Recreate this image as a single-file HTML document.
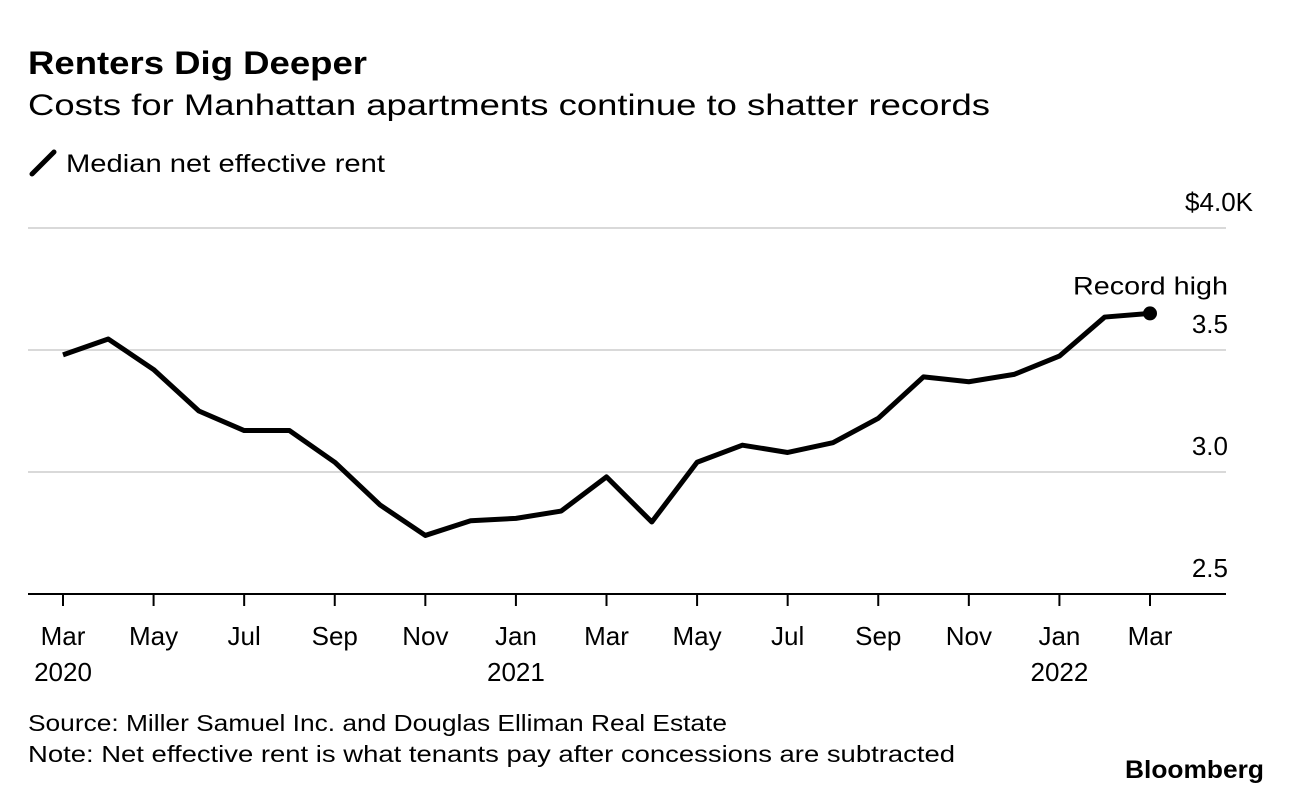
<!DOCTYPE html>
<html><head><meta charset="utf-8"><style>
body{margin:0;background:#fff;font-family:"Liberation Sans",Arial,sans-serif;}
svg text{font-family:"Liberation Sans",Arial,sans-serif;}
</style></head><body>
<svg width="1292" height="794" viewBox="0 0 1292 794">
<text x="28" y="74" font-size="32" font-weight="bold" fill="#000" textLength="339" lengthAdjust="spacingAndGlyphs">Renters Dig Deeper</text>
<text x="28" y="115" font-size="30" fill="#000" textLength="962" lengthAdjust="spacingAndGlyphs">Costs for Manhattan apartments continue to shatter records</text>
<g>
<line x1="32" y1="174" x2="54" y2="152" stroke="#000" stroke-width="5" stroke-linecap="round"/>
<text x="66" y="172" font-size="25" fill="#000" textLength="319" lengthAdjust="spacingAndGlyphs">Median net effective rent</text>
</g>
<g id="grid"></g>
<g id="yl"></g>
<g id="xl"></g>
<path id="line" fill="none" stroke="#000" stroke-width="5" stroke-linejoin="round"/>
<circle id="dot" r="7" fill="#000"/>
<text id="ann" font-size="25" text-anchor="end" fill="#000" textLength="155" lengthAdjust="spacingAndGlyphs">Record high</text>
<text x="28" y="731" font-size="23" fill="#000" textLength="699" lengthAdjust="spacingAndGlyphs">Source: Miller Samuel Inc. and Douglas Elliman Real Estate</text>
<text x="28" y="762" font-size="23" fill="#000" textLength="927" lengthAdjust="spacingAndGlyphs">Note: Net effective rent is what tenants pay after concessions are subtracted</text>
<text x="1125" y="778" font-size="25" font-weight="bold" fill="#000" textLength="139" lengthAdjust="spacingAndGlyphs">Bloomberg</text>
</svg>
<script>
const values=[3.48,3.545,3.42,3.25,3.17,3.17,3.04,2.865,2.74,2.80,2.81,2.84,2.98,2.795,3.04,3.11,3.08,3.12,3.22,3.39,3.37,3.40,3.475,3.635,3.65];
const yTicks=[2.5,3.0,3.5,4.0];
const yTickLabels=["2.5","3.0","3.5","$4.0K"];
const monthLabels=["Mar","May","Jul","Sep","Nov","Jan","Mar","May","Jul","Sep","Nov","Jan","Mar"];
const yearLabels=[[0,"2020"],[10,"2021"],[22,"2022"]];
const NS="http://www.w3.org/2000/svg";
const x=i=>63+i*(1150-63)/24;
const y=v=>594-(v-2.5)*244;
function mk(t,a,p){const e=document.createElementNS(NS,t);for(const k in a)e.setAttribute(k,a[k]);p.appendChild(e);return e;}
const grid=document.getElementById('grid'),yl=document.getElementById('yl'),xl=document.getElementById('xl');
yTicks.forEach((v,i)=>{
 const l=mk('line',{x1:28,x2:1226,y1:y(v),y2:y(v),stroke:i==0?'#000':'#d9d9d9','stroke-width':2},grid);
 
 
 const last=i==yTicks.length-1;
 const t=mk('text',{x:last?1253:1228,y:y(v)-17,'font-size':26,'text-anchor':'end',fill:'#000'},yl);
 t.textContent=yTickLabels[i];
 
 
});
monthLabels.forEach((m,j)=>{
 const i=j*2;
 const tk=mk('line',{x1:x(i),x2:x(i),y1:594,y2:606,stroke:'#000','stroke-width':2},xl);
 
 
 const t=mk('text',{x:x(i),y:645,'font-size':26,'text-anchor':'middle',fill:'#000'},xl);
 t.textContent=m;
 
 
});
yearLabels.forEach(([i,s])=>{
 const t=mk('text',{x:x(i),y:681,'font-size':26,'text-anchor':'middle',fill:'#000'},xl);
 t.textContent=s;
 
 
});
document.getElementById('line').setAttribute('d',values.map((v,i)=>(i?'L':'M')+x(i)+','+y(v)).join(''));
const n=values.length-1,d=document.getElementById('dot');
d.setAttribute('cx',x(n));d.setAttribute('cy',y(values[n]));
const a=document.getElementById('ann');a.setAttribute('x',1228);a.setAttribute('y',y(values[n])-19);
</script>
</body></html>
